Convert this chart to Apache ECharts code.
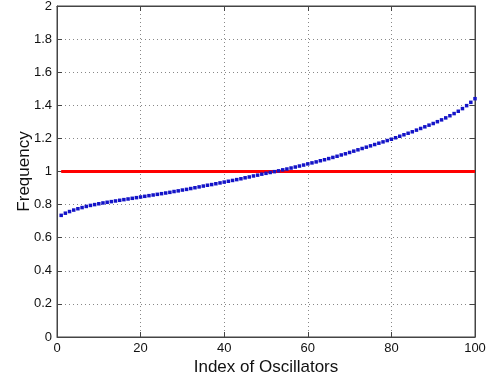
<!DOCTYPE html>
<html><head><meta charset="utf-8">
<script src="https://cdn.jsdelivr.net/npm/echarts@6/dist/echarts.min.js"></script>
<style>html,body{margin:0;padding:0;background:#fff}#c{width:490px;height:379px}</style>
</head><body><div id="c"></div>
<script>
const xTicks = [0, 20, 40, 60, 80, 100];
const yTicks = [0, 0.2, 0.4, 0.6, 0.8, 1, 1.2, 1.4, 1.6, 1.8, 2];
const frequencies = [
0.735,0.748,0.758,0.767,0.775,0.782,0.789,0.795,0.800,0.805,
0.810,0.814,0.818,0.822,0.826,0.830,0.834,0.838,0.842,0.846,
0.850,0.854,0.858,0.862,0.866,0.870,0.874,0.879,0.883,0.888,
0.892,0.897,0.902,0.907,0.912,0.917,0.921,0.926,0.931,0.936,
0.941,0.946,0.951,0.956,0.962,0.967,0.973,0.978,0.984,0.989,
0.994,0.999,1.004,1.010,1.015,1.021,1.027,1.033,1.039,1.046,
1.052,1.058,1.065,1.071,1.078,1.085,1.092,1.100,1.107,1.115,
1.123,1.131,1.139,1.147,1.155,1.163,1.171,1.179,1.187,1.195,
1.204,1.213,1.222,1.231,1.240,1.250,1.260,1.270,1.280,1.290,
1.301,1.312,1.324,1.337,1.350,1.364,1.380,1.398,1.418,1.440];
const referenceLine = [[1, 1], [100, 1]];

const pts = frequencies.map((v, i) => [i + 1, v]);
const font = 'Liberation Sans, Arial, Helvetica, sans-serif';
const chart = echarts.init(document.getElementById('c'));
const grid = {left: 57, right: 15, top: 6, bottom: 42};
const axisBase = {
  axisLine: {show: true, onZero: false, lineStyle: {color: '#444', width: 1}},
  axisTick: {show: true, inside: true, length: 5, lineStyle: {color: '#444'}},
};
chart.setOption({
  animation: false,
  grid: Object.assign({show: true, borderColor: '#444', borderWidth: 1,
    containLabel: false, outerBoundsMode: 'none'}, grid),
  xAxis: [
    Object.assign({}, axisBase, {
      type: 'value', min: 0, max: 100, interval: 20, position: 'bottom',
      name: 'Index of Oscillators', nameLocation: 'middle', nameGap: 22,
      nameMoveOverlap: false,
      nameTextStyle: {fontFamily: font, fontSize: 17, color: '#111'},
      axisLabel: {fontFamily: font, fontSize: 13, color: '#111', margin: 5},
      splitLine: {show: true, lineStyle: {color: '#888', type: [1, 3], width: 1}}
    }),
    Object.assign({}, axisBase, {
      type: 'value', min: 0, max: 100, interval: 20, position: 'top',
      axisLabel: {show: false}, splitLine: {show: false}
    })
  ],
  yAxis: [
    Object.assign({}, axisBase, {
      type: 'value', min: 0, max: 2, interval: 0.2, position: 'left',
      name: 'Frequency', nameLocation: 'middle', nameGap: 24, nameRotate: 90,
      nameMoveOverlap: false,
      nameTextStyle: {fontFamily: font, fontSize: 17, color: '#111'},
      axisLabel: {fontFamily: font, fontSize: 13, color: '#111', margin: 5,
        formatter: v => String(Math.round(v * 10) / 10)},
      splitLine: {show: true, lineStyle: {color: '#888', type: [1, 3], width: 1}}
    }),
    Object.assign({}, axisBase, {
      type: 'value', min: 0, max: 2, interval: 0.2, position: 'right',
      axisLabel: {show: false}, splitLine: {show: false}
    })
  ],
  series: [
    {
      type: 'line', data: referenceLine, symbol: 'none',
      lineStyle: {color: '#ff0000', width: 3}, z: 2
    },
    {
      type: 'scatter', data: pts, symbol: 'rect', symbolSize: 3.5,
      itemStyle: {color: '#1414c8', opacity: 1}, z: 3
    }
  ]
});
</script></body></html>
